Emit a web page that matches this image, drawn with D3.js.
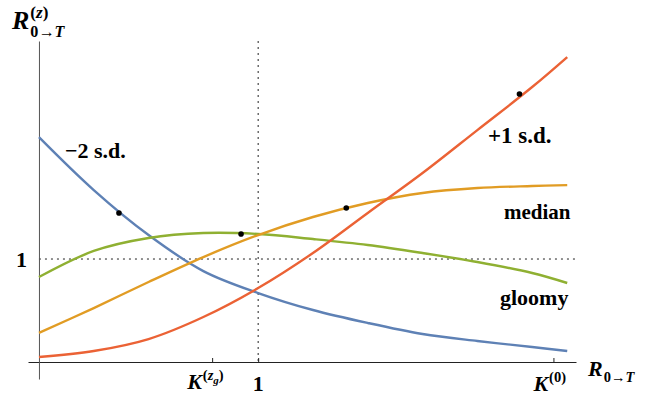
<!DOCTYPE html>
<html>
<head>
<meta charset="utf-8">
<script src="https://cdn.jsdelivr.net/npm/d3@7"></script>
<style>
  body { margin: 0; background: #fff; }
  svg text { font-family: "Liberation Serif", "DejaVu Serif", serif; font-weight: bold; fill: #000; }
</style>
</head>
<body>
<div id="chart"></div>
<script>
// sample positions along the R axis (1 = the dashed line)
var xs = [0, 0.25, 0.5, 0.75, 1, 1.25, 1.5, 1.75, 2, 2.25, 2.41];

// curve values
var minus2sd = [2.184, 1.670, 1.233, 0.883, 0.670, 0.505, 0.379, 0.272, 0.204, 0.146, 0.107];
var gloomy   = [0.825, 1.078, 1.204, 1.252, 1.243, 1.194, 1.136, 1.058, 0.971, 0.864, 0.767];
var median   = [0.282, 0.524, 0.777, 1.019, 1.233, 1.408, 1.544, 1.641, 1.689, 1.709, 1.718];
var plus1sd  = [0.049, 0.107, 0.223, 0.437, 0.718, 1.058, 1.447, 1.835, 2.252, 2.670, 2.961];

// black dots on each curve
var dots = [
    { x: 0.365, y: 1.447 },
    { x: 0.922, y: 1.243 },
    { x: 1.402, y: 1.495 },
    { x: 2.192, y: 2.602 }
];

// x ticks: K^(zg), 1, K^(0)
var xTicks = [0.79, 1, 2.347];

var series = [
    { name: "minus2sd", values: minus2sd, color: "#5e81b5" },
    { name: "gloomy",   values: gloomy,   color: "#8fb032" },
    { name: "median",   values: median,   color: "#e19c24" },
    { name: "plus1sd",  values: plus1sd,  color: "#eb6235" }
];

var width = 647, height = 402;

var svg = d3.select("#chart")
    .append("svg")
    .attr("width", width)
    .attr("height", height);

var x = d3.scaleLinear().domain([-0.05, 2.45]).range([28, 576]);
var y = d3.scaleLinear().domain([-0.165, 3.117]).range([379, 41]);

// dashed reference lines at 1
svg.append("line")
    .attr("x1", x(1)).attr("x2", x(1))
    .attr("y1", y(3.117)).attr("y2", y(0))
    .attr("stroke", "#222").attr("stroke-width", 1)
    .attr("stroke-dasharray", "2,4");
svg.append("line")
    .attr("x1", x(0)).attr("x2", x(2.45))
    .attr("y1", y(1)).attr("y2", y(1))
    .attr("stroke", "#222").attr("stroke-width", 1)
    .attr("stroke-dasharray", "2,4");

// axes
var xAxis = d3.axisBottom(x).tickValues(xTicks).tickSizeInner(-4).tickSizeOuter(0).tickFormat("");
svg.append("g")
    .attr("transform", "translate(0," + y(0) + ")")
    .call(xAxis)
    .call(g => g.selectAll("line, path").attr("stroke", "#222"));

var yAxis = d3.axisLeft(y).tickValues([]).tickSizeOuter(0);
svg.append("g")
    .attr("transform", "translate(" + x(0) + ",0)")
    .call(yAxis)
    .call(g => g.select("path").attr("stroke", "#555"));

// curves
var line = d3.line()
    .x((d, i) => x(xs[i]))
    .y(d => y(d))
    .curve(d3.curveCatmullRom.alpha(0.5));

svg.selectAll(".curve")
    .data(series)
    .enter()
    .append("path")
    .attr("class", "curve")
    .attr("d", d => line(d.values))
    .attr("fill", "none")
    .attr("stroke", d => d.color)
    .attr("stroke-width", 2.4);

svg.selectAll(".dot")
    .data(dots)
    .enter()
    .append("circle")
    .attr("class", "dot")
    .attr("cx", d => x(d.x))
    .attr("cy", d => y(d.y))
    .attr("r", 2.8)
    .attr("fill", "#000");

// curve labels
function label(txt, px, py, size) {
    svg.append("text").attr("x", px).attr("y", py)
        .style("font-size", size + "px").text(txt);
}
label("\u22122 s.d.", 65, 158, 22);
label("+1 s.d.", 488, 143, 23);
label("median", 504, 219, 21);
label("gloomy", 500, 305, 22);

// math-style label in one text: main letter, then a superscript and/or subscript stack
// parts: [text, italic, baseline shift (x size), scale]
function mathLabel(px, py, size, main, sup, sub) {
    var t = svg.append("text").attr("x", px).attr("y", py).style("font-size", size + "px");
    var m = t.append("tspan").style("font-style", "italic").text(main);
    var right = px + m.node().getComputedTextLength() + 1;
    var cur = 0;
    [sup, sub].forEach(parts => {
        if (!parts) return;
        parts.forEach((p, i) => {
            var shift = p[2] * size;
            var s = t.append("tspan")
                .attr("dy", shift - cur)
                .style("font-style", p[1] ? "italic" : "normal")
                .style("font-size", (p[3] * size) + "px")
                .text(p[0]);
            if (i == 0) s.attr("x", right);
            cur = shift;
        });
    });
}

mathLabel(12, 29, 26, "R",
    [["(", 0, -0.42, 0.66], ["z", 1, -0.42, 0.66], [")", 0, -0.42, 0.66]],
    [["0\u2192", 0, 0.3, 0.62], ["T", 1, 0.3, 0.62]]);
mathLabel(588, 376, 22, "R", null,
    [["0\u2192", 0, 0.25, 0.66], ["T", 1, 0.25, 0.66]]);

// tick labels
mathLabel(x(xTicks[0]) - 25, 389, 22, "K",
    [["(", 0, -0.42, 0.66], ["z", 1, -0.42, 0.66], ["g", 1, -0.25, 0.5], [")", 0, -0.42, 0.66]], null);
svg.append("text").attr("x", x(1)).attr("y", 391).attr("text-anchor", "middle")
    .style("font-size", "22px").text("1");
mathLabel(x(xTicks[2]) - 20, 391, 22, "K", [["(0)", 0, -0.42, 0.66]], null);
svg.append("text").attr("x", 27).attr("y", y(1) + 8).attr("text-anchor", "end")
    .style("font-size", "22px").text("1");
</script>
</body>
</html>
